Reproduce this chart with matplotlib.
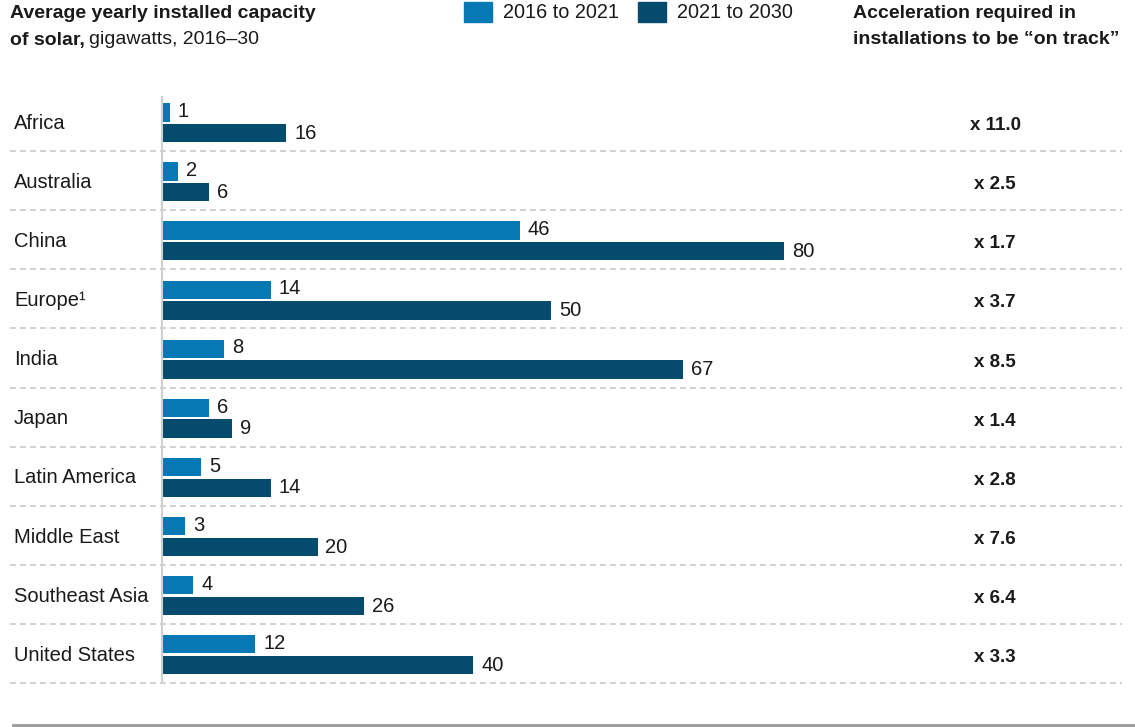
"""Average yearly installed solar capacity by region, 2016-21 vs 2021-30."""

import matplotlib

matplotlib.use("Agg")
import matplotlib.pyplot as plt
from matplotlib.lines import Line2D
from matplotlib.patches import Rectangle
from matplotlib.transforms import blended_transform_factory

regions = [
    "Africa", "Australia", "China", "Europe\u00b9", "India", "Japan",
    "Latin America", "Middle East", "Southeast Asia", "United States",
]
past = [1, 2, 46, 14, 8, 6, 5, 3, 4, 12]
future = [16, 6, 80, 50, 67, 9, 14, 20, 26, 40]
acceleration = ["x 11.0", "x 2.5", "x 1.7", "x 3.7", "x 8.5",
                "x 1.4", "x 2.8", "x 7.6", "x 6.4", "x 3.3"]
series_labels = ["2016 to 2021", "2021 to 2030"]

LIGHT = "#0679B4"
DARK = "#054B6E"
TEXT = "#1a1a1a"
W, H = 1135, 727

plt.rcParams["font.family"] = ["Liberation Sans", "DejaVu Sans"]

fig = plt.figure(figsize=(W / 100, H / 100), dpi=100)

# axes: x from px 162 to 1135, y from px 92 to 683
left, right, top, bottom = 162, 1135, 92, 683
ax = fig.add_axes([left / W, 1 - bottom / H, (right - left) / W, (bottom - top) / H])
px_per_unit = (784 - 162) / 80
ax.set_xlim(0, (right - left) / px_per_unit)
ax.set_ylim(len(regions), 0)
ax.axis("off")

bar_h = 0.31
for i, (p, f) in enumerate(zip(past, future)):
    ax.barh(i + 0.345, p, height=bar_h, color=LIGHT, edgecolor="none")
    ax.barh(i + 0.695, f, height=bar_h, color=DARK, edgecolor="none")
    ax.text(p + 8 / px_per_unit, i + 0.33, str(p), va="center", ha="left",
            fontsize=14.5, color=TEXT)
    ax.text(f + 8 / px_per_unit, i + 0.70, str(f), va="center", ha="left",
            fontsize=14.5, color=TEXT)

mixed = blended_transform_factory(fig.transFigure, ax.transData)
for i, (name, acc) in enumerate(zip(regions, acceleration)):
    ax.text(14 / W, i + 0.53, name, transform=mixed, va="center", ha="left",
            fontsize=14.5, color=TEXT)
    ax.text(995 / W, i + 0.57, acc, transform=mixed, va="center", ha="center",
            fontsize=13.5, fontweight="bold", color=TEXT)
    ax.plot([10 / W, 1122 / W], [i + 1, i + 1], transform=mixed, color="#c8c8c8",
            linewidth=1.2, linestyle=(0, (3.5, 2.5)), clip_on=False)

# vertical axis line
fig.add_artist(Line2D([161.5 / W, 161.5 / W], [1 - 97 / H, 1 - 683 / H],
                      color="#cfcfcf", linewidth=1.5))
# bottom rule
fig.add_artist(Line2D([13 / W, 1.0], [1 - 725 / H, 1 - 725 / H],
                      color="#999999", linewidth=2))

# title
fig.text(10 / W, 1 - 14 / H, "Average yearly installed capacity", fontsize=14,
         fontweight="bold", color=TEXT, va="center", ha="left")
t = fig.text(10 / W, 1 - 40 / H, "of solar,", fontsize=14, fontweight="bold",
             color=TEXT, va="center", ha="left")
fig.canvas.draw()
bb = t.get_window_extent()
fig.text(bb.x1 / W + 4 / W, 1 - 40 / H, "gigawatts, 2016\u201330", fontsize=14,
         color=TEXT, va="center", ha="left")

# legend
for (x0, xt), label, color in zip([(464, 503), (638, 677)], series_labels, [LIGHT, DARK]):
    fig.add_artist(Rectangle((x0 / W, 1 - 22 / H), 28 / W, 20 / H,
                             transform=fig.transFigure, color=color))
    fig.text(xt / W, 1 - 13 / H, label, fontsize=14.3, color=TEXT,
             va="center", ha="left")

# right header
fig.text(853 / W, 1 - 14 / H, "Acceleration required in", fontsize=14,
         fontweight="bold", color=TEXT, va="center", ha="left")
fig.text(853 / W, 1 - 40 / H, "installations to be \u201con track\u201d", fontsize=14,
         fontweight="bold", color=TEXT, va="center", ha="left")

fig.savefig("out.png", dpi=100)
